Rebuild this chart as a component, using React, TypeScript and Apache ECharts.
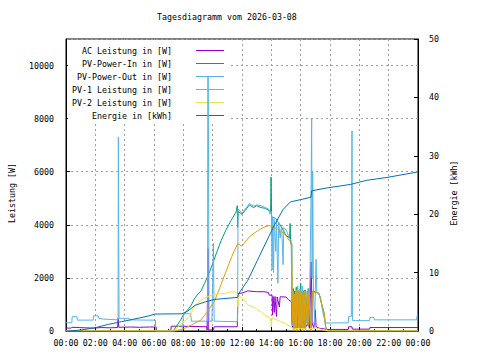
import React, { useEffect, useRef } from 'react';
import * as echarts from 'echarts';

const FONT = 'DejaVu Sans Mono';
const FS = 8.3;

const titleText = 'Tagesdiagramm vom 2026-03-08';
const seriesNames = [
  'AC Leistung in [W]',
  'PV-Power-In in [W]',
  'PV-Power-Out in [W]',
  'PV-1 Leistung in [W]',
  'PV-2 Leistung in [W]',
  'Energie in [kWh]',
];
const seriesColors = ['#9400d3', '#009e73', '#56b4e9', '#e69f00', '#f0e442', '#0072b2'];

// [hour, W]
const acPower: [number, number][] = [
  [0, 110], [0.35, 110], [0.4, 140], [0.9, 130], [1.3, 120], [1.9, 110], [2.4, 130], [3.0, 120],
  [3.52, 130], [3.55, 480], [3.6, 140], [4.4, 150], [5.0, 140], [5.7, 150], [6.15, 150], [6.17, 0],
  [7.15, 0], [7.17, 180], [7.9, 180], [7.92, 160], [9.6, 160], [9.62, 40], [9.66, 40], [9.68, 3100],
  [9.7, 40], [10.05, 40], [10.1, 160], [11.68, 160], [11.72, 1410], [12.0, 1430], [12.4, 1510],
  [13.0, 1480], [13.5, 1480], [13.8, 1450], [13.85, 1350], [14.05, 1350], [14.08, 600], [14.12, 1300],
  [14.2, 700], [14.25, 1300], [14.35, 550], [14.4, 1280], [14.55, 900], [14.6, 1290], [15.0, 1280],
  [15.2, 1160], [15.38, 1100], [15.42, 200], [15.5, 100], [15.55, 1500], [15.6, 100], [15.75, 700],
  [15.8, 100], [15.95, 1200], [16.0, 100], [16.2, 400], [16.3, 100], [16.5, 300], [16.6, 100],
  [16.72, 2600], [16.78, 300], [16.9, 100], [17.0, 800], [17.05, 150], [17.3, 100], [17.6, 80],
  [17.8, 60], [19.25, 60], [19.27, 160], [19.5, 160], [19.52, 70], [20.7, 70], [20.72, 130], [24, 130],
];

const pvPowerIn: [number, number][] = [
  [0, 0], [7.3, 0], [7.5, 150], [7.8, 400], [8.0, 600], [8.3, 800], [8.54, 975], [8.77, 1225],
  [9.0, 1400], [9.2, 1500], [9.44, 1790], [9.7, 2100], [10.0, 2540], [10.3, 3000], [10.58, 3410],
  [10.9, 3800], [11.25, 4160], [11.6, 4480], [11.68, 4720], [11.7, 3900], [11.75, 4500], [12.0, 4400],
  [12.3, 4600], [12.5, 4750], [12.8, 4650], [13.0, 4720], [13.3, 4650], [13.6, 4620], [13.95, 4500],
  [13.98, 5800], [14.02, 4300], [14.3, 4240], [14.7, 3910], [15.0, 3600], [15.25, 3500], [15.28, 4050],
  [15.32, 3300], [15.4, 3300], [15.42, 300], [15.5, 1600], [15.53, 0], [15.6, 1500], [15.63, 100],
  [15.7, 1650], [15.73, 0], [15.8, 1550], [15.83, 100], [15.9, 1500], [15.93, 0], [16.0, 1800],
  [16.03, 100], [16.1, 1450], [16.13, 0], [16.2, 1500], [16.23, 100], [16.3, 1550], [16.33, 0],
  [16.45, 1500], [16.5, 200], [16.56, 1600], [16.65, 300], [16.72, 0], [16.8, 1500], [17.0, 1480],
  [17.25, 1420], [17.36, 1180], [17.6, 680], [17.7, 170], [17.8, 0], [24, 0],
];

const pvPowerOut: [number, number][] = [
  [0, 310], [0.4, 310], [0.42, 540], [0.75, 540], [0.77, 410], [1.85, 410], [1.88, 570], [2.2, 570],
  [2.22, 480], [2.5, 450], [3.5, 420], [3.55, 420], [3.57, 7300], [3.59, 3900], [3.62, 480], [4.3, 476],
  [4.32, 420], [5.5, 410], [6.1, 410], [6.12, 0], [7.95, 0], [8.0, 650], [8.5, 650], [8.55, 370],
  [9.65, 370], [9.67, 9600], [9.7, 9550], [9.75, 370], [9.95, 370], [10.05, 3300], [10.1, 370],
  [11.7, 350], [11.73, 4600], [12.0, 4450], [12.3, 4650], [12.5, 4800], [12.8, 4700], [13.0, 4750],
  [13.3, 4720], [13.6, 4650], [13.8, 4600], [13.9, 4400], [14.0, 4500], [14.05, 2300], [14.1, 4300],
  [14.15, 2200], [14.2, 4200], [14.3, 3000], [14.35, 4100], [14.45, 1800], [14.5, 4100], [14.6, 3500],
  [14.7, 4000], [14.8, 2500], [14.85, 3900], [15.0, 3800], [15.1, 3700], [15.2, 3500], [15.35, 3400],
  [15.42, 300], [15.45, 200], [15.5, 1000], [15.55, 100], [15.65, 1500], [15.7, 200], [15.8, 1700],
  [15.85, 300], [15.95, 1600], [16.0, 200], [16.1, 1700], [16.2, 400], [16.3, 1500], [16.4, 300],
  [16.5, 1600], [16.6, 800], [16.7, 4700], [16.75, 8000], [16.78, 2000], [16.82, 6000], [16.87, 1500],
  [16.95, 300], [17.05, 2700], [17.1, 1500], [17.2, 1400], [17.35, 1300], [17.45, 900], [17.55, 600],
  [17.7, 300], [19.25, 310], [19.27, 540], [19.45, 540], [19.5, 7540], [19.53, 390], [20.7, 390],
  [20.72, 510], [21.0, 510], [21.02, 420], [23.9, 420], [23.95, 600], [24, 600],
];

const pv1Power: [number, number][] = [
  [0, 0], [7.4, 0], [7.8, 50], [8.1, 100], [8.54, 225], [9.2, 410], [9.6, 700], [10.1, 1100],
  [10.5, 1650], [10.9, 2225], [11.3, 2800], [11.7, 3290], [12.0, 3200], [12.5, 3550], [13.1, 3790],
  [13.5, 3910], [13.85, 3975], [14.1, 3930], [14.4, 3850], [14.9, 3660], [15.3, 3350], [15.38, 3200],
  [15.4, 2290], [15.45, 300], [15.5, 1500], [15.53, 0], [15.6, 1400], [15.63, 100], [15.7, 1550],
  [15.73, 0], [15.8, 1500], [15.83, 100], [15.9, 1450], [15.93, 0], [16.0, 1500], [16.03, 100],
  [16.1, 1400], [16.13, 0], [16.2, 1450], [16.23, 100], [16.3, 1500], [16.33, 0], [16.45, 1450],
  [16.5, 200], [16.56, 1440], [16.65, 300], [16.72, 0], [16.8, 1475], [17.0, 1450], [17.25, 1410],
  [17.36, 1160], [17.6, 660], [17.7, 160], [17.8, 0], [24, 0],
];

const pv2Power: [number, number][] = [
  [0, 0], [7.4, 0], [7.7, 200], [8.0, 350], [8.2, 420], [8.54, 660], [8.66, 850], [9.2, 1160],
  [9.5, 1250], [9.9, 1350], [10.4, 1400], [10.8, 1410], [11.2, 1470], [11.5, 1475], [11.68, 1400],
  [11.72, 900], [11.8, 1350], [12.0, 1220], [12.15, 1160], [12.4, 980], [12.8, 900], [13.0, 820],
  [13.3, 720], [13.7, 540], [13.95, 480], [14.0, 160], [14.05, 500], [14.4, 410], [14.9, 290],
  [15.3, 160], [15.5, 80], [16.0, 100], [16.5, 60], [17.0, 120], [17.5, 50], [17.9, 0], [24, 0],
];

// [hour, kWh]
const energy: [number, number][] = [
  [0, 0], [0.2, 0], [1, 0.17], [2, 0.56], [2.9, 1.14], [3.8, 1.6], [4.9, 2.17], [5.6, 2.56],
  [6.05, 2.9], [7.9, 2.95], [8.3, 3.4], [8.8, 4.4], [9.5, 5.0], [10.1, 5.4], [11.7, 5.75],
  [11.75, 6.3], [12.4, 8.7], [13.05, 12.1], [14.2, 18.1], [14.8, 20.8], [15.3, 22.1], [16.0, 22.5],
  [16.7, 22.9], [16.75, 24.0], [17.8, 24.5], [19.4, 25.1], [20.5, 25.8], [21.9, 26.3], [23.9, 27.2],
  [24, 27.3],
];

const legendRowsY = [47, 60, 73, 86, 99, 112];

const seriesData = [acPower, pvPowerIn, pvPowerOut, pv1Power, pv2Power, energy];

function hourLabel(v: number) {
  const h = Math.round(v) % 24;
  return (h < 10 ? '0' : '') + h + ':00';
}

export default function App() {
  const ref = useRef<HTMLDivElement>(null);
  useEffect(() => {
    document.body.style.margin = '0';
    const chart = echarts.init(ref.current!, null, { renderer: 'svg' });
    const txt = { fontFamily: FONT, fontSize: FS, color: '#000' };
    const option: any = {
      animation: false,
      backgroundColor: '#fff',
      title: {
        text: titleText,
        left: 157,
        top: 13,
        padding: 0,
        textStyle: { ...txt, fontWeight: 'normal' },
      },
      graphic: [
        {
          type: 'rect',
          z: 1,
          silent: true,
          shape: { x: 68, y: 40, width: 160, height: 81 },
          style: { fill: '#fff' },
        },
      ],
      legend: seriesNames.map((name, i) => ({
        data: [name],
        orient: 'horizontal',
        align: 'right',
        right: 256,
        top: legendRowsY[i] - 0.5,
        icon: 'rect',
        itemWidth: 28,
        itemHeight: 1,
        itemGap: 0,
        padding: 0,
        selectedMode: false,
        textStyle: { ...txt, padding: [0, 19, 0, 0] },
      })),
      grid: {
        left: 64,
        right: 62,
        top: 39,
        bottom: 29,
        show: true,
        borderColor: '#000',
        borderWidth: 1,
        backgroundColor: 'transparent',
      },
      xAxis: {
        type: 'value',
        min: 0,
        max: 24,
        interval: 2,
        axisLine: { show: true, lineStyle: { color: '#000', width: 1 } },
        axisTick: { show: true, inside: true, length: 4, lineStyle: { color: '#000' } },
        minorTick: { show: true, splitNumber: 2, length: 2, lineStyle: { color: '#000' } },
        axisLabel: { ...txt, margin: 8, formatter: hourLabel },
        splitLine: { show: true, lineStyle: { color: '#a0a0a0', type: [2, 3], width: 1 } },
      },
      yAxis: [
        {
          type: 'value',
          min: 0,
          max: 11000,
          interval: 2000,
          name: 'Leistung [W]',
          nameLocation: 'middle',
          nameGap: 50,
          nameTextStyle: { ...txt, padding: [0, 16, 0, 0] },
          axisLine: { show: true, lineStyle: { color: '#000', width: 1 } },
          axisTick: { show: true, inside: true, length: 4, lineStyle: { color: '#000' } },
          axisLabel: { ...txt, margin: 12, showMaxLabel: false, formatter: (v: number) => String(v) },
          splitLine: { show: true, lineStyle: { color: '#a0a0a0', type: [2, 3], width: 1 } },
        },
        {
          type: 'value',
          min: 0,
          max: 50,
          interval: 10,
          position: 'right',
          name: 'Energie [kWh]',
          nameLocation: 'middle',
          nameGap: 29,
          nameTextStyle: { ...txt, padding: [0, 16, 0, 0] },
          axisLine: { show: true, lineStyle: { color: '#000', width: 1 } },
          axisTick: { show: true, inside: true, length: 4, lineStyle: { color: '#000' } },
          axisLabel: { ...txt, margin: 11, formatter: (v: number) => String(v) },
          splitLine: { show: false },
        },
      ],
      series: seriesNames.map((name, i) => ({
        name,
        type: 'line',
        yAxisIndex: i === 5 ? 1 : 0,
        data: seriesData[i],
        symbol: 'none',
        showSymbol: false,
        color: seriesColors[i],
        lineStyle: { width: 1, color: seriesColors[i] },
        z: 2 + i,
      })),
    };
    chart.setOption(option);
    return () => chart.dispose();
  }, []);
  return <div ref={ref} style={{ width: 480, height: 360, background: '#fff' }} />;
}
